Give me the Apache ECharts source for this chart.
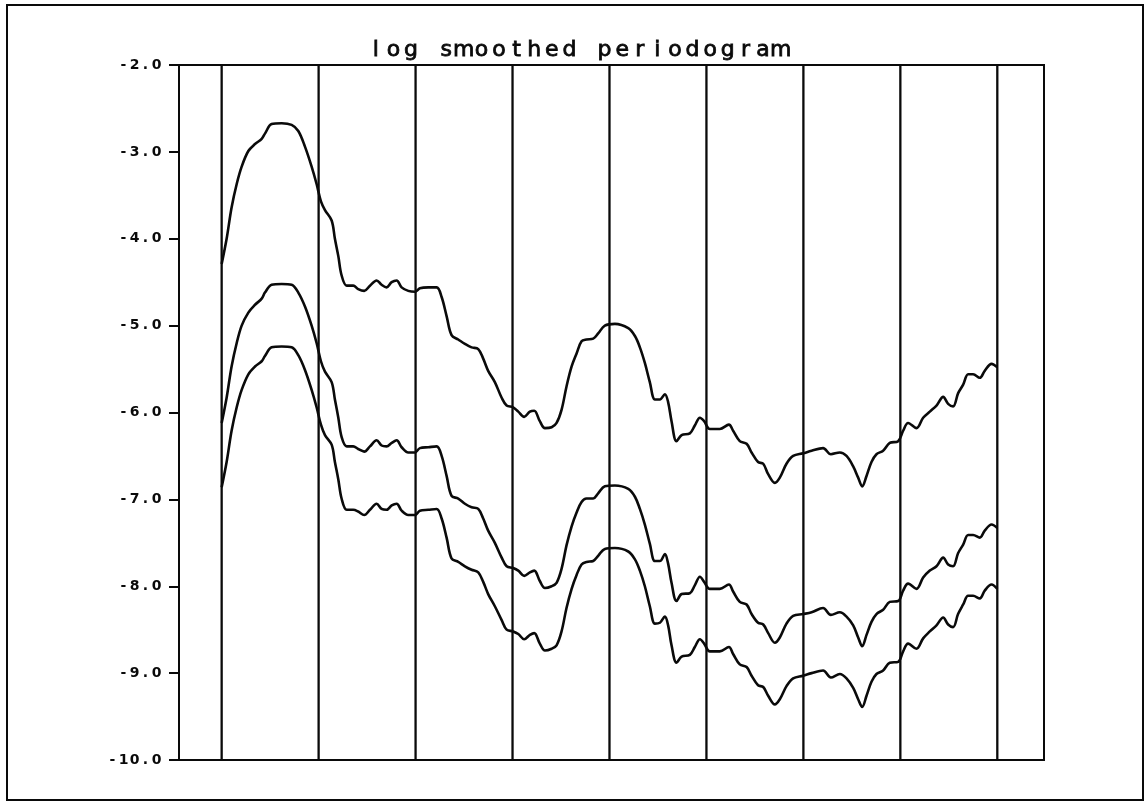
<!DOCTYPE html>
<html>
<head>
<meta charset="utf-8">
<title>log smoothed periodogram</title>
<script src="https://cdn.jsdelivr.net/npm/echarts@6/dist/echarts.min.js"></script>
<style>
  html, body { margin: 0; padding: 0; background: #fff; }
  #chart { width: 1146px; height: 803px; }
</style>
</head>
<body>
<div id="chart"></div>
<script>
// Frequencies (cycles per sample) at which the three curves are sampled
const freq = [
  0.0000, 0.0032, 0.0064, 0.0097, 0.0129, 0.0172, 0.0215, 0.0258, 0.0279, 0.0322,
  0.0387, 0.0451, 0.0494, 0.0537, 0.0580, 0.0612, 0.0640, 0.0666, 0.0709, 0.0730,
  0.0752, 0.0773, 0.0806, 0.0848, 0.0880, 0.0919, 0.0956, 0.0999, 0.1031, 0.1063,
  0.1096, 0.1128, 0.1160, 0.1203, 0.1246, 0.1278, 0.1332, 0.1386, 0.1418, 0.1450,
  0.1482, 0.1525, 0.1568, 0.1611, 0.1654, 0.1686, 0.1718, 0.1761, 0.1805, 0.1837,
  0.1879, 0.1912, 0.1950, 0.1987, 0.2015, 0.2051, 0.2084, 0.2127, 0.2159, 0.2191,
  0.2223, 0.2256, 0.2288, 0.2320, 0.2352, 0.2395, 0.2427, 0.2470,
  0.2535, 0.2621, 0.2664, 0.2696, 0.2728, 0.2760, 0.2793, 0.2825, 0.2857, 0.2878,
  0.2900, 0.2932, 0.2965, 0.3018, 0.3050, 0.3083, 0.3110, 0.3147, 0.3211, 0.3270,
  0.3297, 0.3340, 0.3384, 0.3416, 0.3458, 0.3491, 0.3523, 0.3566, 0.3598, 0.3641,
  0.3684, 0.3748, 0.3803, 0.3877, 0.3927, 0.3985, 0.4028, 0.4071, 0.4103, 0.4129,
  0.4157, 0.4189, 0.4221, 0.4264, 0.4307, 0.4361, 0.4393, 0.4425, 0.4479, 0.4522,
  0.4565, 0.4608, 0.4651, 0.4683, 0.4715, 0.4747, 0.4780, 0.4812, 0.4844, 0.4887,
  0.4919, 0.4963, 0.5000
];

// Upper band of the log smoothed periodogram
const upperBand = [
  -4.29, -4.00, -3.64, -3.37, -3.17, -2.99, -2.91, -2.85, -2.79, -2.68,
  -2.67, -2.69, -2.76, -2.94, -3.17, -3.37, -3.57, -3.67, -3.79, -4.00,
  -4.20, -4.42, -4.54, -4.54, -4.58, -4.60, -4.54, -4.48, -4.53, -4.56,
  -4.50, -4.48, -4.56, -4.60, -4.61, -4.57, -4.56, -4.56, -4.67, -4.89,
  -5.11, -5.16, -5.21, -5.25, -5.27, -5.38, -5.52, -5.65, -5.83, -5.92,
  -5.94, -5.99, -6.05, -5.99, -5.98, -6.10, -6.18, -6.17, -6.12, -5.97,
  -5.70, -5.47, -5.32, -5.18, -5.16, -5.15, -5.09, -5.00,
  -4.98, -5.03, -5.12, -5.25, -5.43, -5.65, -5.85, -5.85, -5.79, -5.88,
  -6.10, -6.33, -6.26, -6.24, -6.15, -6.06, -6.10, -6.19, -6.19, -6.14,
  -6.21, -6.33, -6.36, -6.46, -6.57, -6.59, -6.71, -6.81, -6.75, -6.59,
  -6.50, -6.47, -6.44, -6.41, -6.48, -6.46, -6.50, -6.62, -6.75, -6.85,
  -6.73, -6.57, -6.48, -6.44, -6.35, -6.33, -6.21, -6.12, -6.18, -6.06,
  -5.99, -5.92, -5.82, -5.90, -5.93, -5.78, -5.68, -5.56, -5.56, -5.60,
  -5.52, -5.44, -5.48
];

// Smoothed periodogram estimate (log scale)
const estimate = [
  -6.12, -5.83, -5.47, -5.20, -5.00, -4.85, -4.76, -4.69, -4.62, -4.53,
  -4.52, -4.53, -4.62, -4.78, -5.00, -5.20, -5.41, -5.53, -5.65, -5.85,
  -6.06, -6.28, -6.39, -6.39, -6.42, -6.45, -6.39, -6.32, -6.38, -6.39,
  -6.35, -6.32, -6.40, -6.46, -6.46, -6.41, -6.40, -6.39, -6.50, -6.73,
  -6.96, -6.99, -7.05, -7.09, -7.11, -7.22, -7.36, -7.50, -7.67, -7.77,
  -7.79, -7.82, -7.88, -7.84, -7.82, -7.94, -8.02, -8.00, -7.96, -7.80,
  -7.53, -7.31, -7.15, -7.03, -6.99, -6.99, -6.93, -6.85,
  -6.84, -6.88, -6.97, -7.11, -7.29, -7.51, -7.71, -7.71, -7.63, -7.74,
  -7.96, -8.17, -8.09, -8.08, -7.99, -7.89, -7.95, -8.03, -8.03, -7.98,
  -8.06, -8.18, -8.21, -8.32, -8.42, -8.44, -8.54, -8.65, -8.59, -8.43,
  -8.34, -8.32, -8.30, -8.25, -8.33, -8.30, -8.35, -8.45, -8.59, -8.69,
  -8.56, -8.41, -8.32, -8.27, -8.18, -8.17, -8.05, -7.97, -8.03, -7.90,
  -7.82, -7.77, -7.67, -7.75, -7.77, -7.62, -7.52, -7.41, -7.41, -7.44,
  -7.36, -7.29, -7.33
];

// Lower band of the log smoothed periodogram
const lowerBand = [
  -6.86, -6.57, -6.21, -5.94, -5.74, -5.56, -5.47, -5.41, -5.35, -5.25,
  -5.24, -5.25, -5.34, -5.51, -5.74, -5.94, -6.14, -6.26, -6.37, -6.57,
  -6.77, -6.99, -7.12, -7.12, -7.14, -7.18, -7.12, -7.05, -7.11, -7.12,
  -7.07, -7.05, -7.13, -7.18, -7.18, -7.13, -7.12, -7.11, -7.22, -7.44,
  -7.68, -7.72, -7.77, -7.81, -7.84, -7.95, -8.09, -8.23, -8.39, -8.50,
  -8.52, -8.55, -8.61, -8.56, -8.54, -8.66, -8.74, -8.72, -8.68, -8.52,
  -8.25, -8.03, -7.87, -7.75, -7.72, -7.71, -7.65, -7.57,
  -7.56, -7.60, -7.69, -7.82, -8.00, -8.23, -8.43, -8.42, -8.35, -8.45,
  -8.68, -8.88, -8.81, -8.79, -8.70, -8.61, -8.66, -8.75, -8.75, -8.70,
  -8.78, -8.90, -8.93, -9.03, -9.14, -9.16, -9.26, -9.36, -9.30, -9.15,
  -9.06, -9.03, -9.00, -8.97, -9.05, -9.01, -9.06, -9.17, -9.30, -9.39,
  -9.26, -9.10, -9.01, -8.97, -8.88, -8.87, -8.75, -8.66, -8.72, -8.60,
  -8.52, -8.45, -8.36, -8.44, -8.47, -8.32, -8.21, -8.11, -8.11, -8.14,
  -8.05, -7.98, -8.03
];

// Vertical reference lines every 1/16 cycle
const gridFreqs = [0, 0.0625, 0.125, 0.1875, 0.25, 0.3125, 0.375, 0.4375, 0.5];

// Y axis range and step
const yMin = -10;
const yMax = -2;
const yStep = 1;

const titleText = 'log smoothed periodogram';

// Spread each character into a fixed-width cell, like a pen plotter font
function spaced(str, style) {
  return str.split('').map(function (c) { return '{' + style + '|' + c + '}'; }).join('');
}

function pairs(values) {
  return values.map(function (v, i) { return [freq[i], v]; });
}

const ink = '#0a0a0a';

const curveStyle = {
  type: 'line',
  showSymbol: false,
  smooth: 0.35,
  silent: true,
  lineStyle: { color: ink, width: 2.6 },
  itemStyle: { color: ink },
  z: 5
};

// One full-height vertical segment per reference frequency
const gridSeries = gridFreqs.map(function (f) {
  return {
    type: 'line',
    showSymbol: false,
    silent: true,
    lineStyle: { color: ink, width: 2.3 },
    itemStyle: { color: ink },
    z: 3,
    data: [[f, yMin], [f, yMax]]
  };
});

const chart = echarts.init(document.getElementById('chart'), null, { renderer: 'canvas' });

chart.setOption({
  animation: false,
  backgroundColor: '#ffffff',
  title: {
    text: spaced(titleText, 'c'),
    left: 362,
    top: 34,
    textStyle: {
      fontSize: 22,
      rich: {
        c: {
          width: 17.6,
          align: 'center',
          fontFamily: 'DejaVu Sans',
          fontSize: 22,
          fontWeight: 'normal',
          color: ink,
          textBorderColor: ink,
          textBorderWidth: 0.8
        }
      }
    }
  },
  graphic: [
    {
      type: 'rect',
      shape: { x: 7, y: 5, width: 1136, height: 795 },
      style: { fill: 'none', stroke: ink, lineWidth: 2 },
      silent: true
    }
  ],
  grid: {
    left: 179,
    top: 65,
    right: 102,
    bottom: 43,
    show: true,
    borderColor: ink,
    borderWidth: 2,
    backgroundColor: 'transparent'
  },
  xAxis: {
    type: 'value',
    min: -0.0275,
    max: 0.5301,
    axisLine: { show: false },
    axisTick: { show: false },
    axisLabel: { show: false },
    splitLine: { show: false }
  },
  yAxis: {
    type: 'value',
    min: yMin,
    max: yMax,
    interval: yStep,
    axisLine: { show: true, onZero: false, lineStyle: { color: ink, width: 2 } },
    axisTick: { show: true, inside: false, length: 10, lineStyle: { color: ink, width: 2 } },
    axisLabel: {
      margin: 17,
      fontSize: 14,
      fontWeight: 'bold',
      fontFamily: 'DejaVu Sans',
      color: ink,
      formatter: function (v) { return spaced(v.toFixed(1), 'd'); },
      rich: {
        d: {
          width: 11,
          align: 'center',
          fontFamily: 'DejaVu Sans',
          fontSize: 14,
          fontWeight: 'bold',
          color: ink
        }
      }
    },
    splitLine: { show: false }
  },
  series: [
    Object.assign({}, curveStyle, { name: 'upper', data: pairs(upperBand) }),
    Object.assign({}, curveStyle, { name: 'estimate', data: pairs(estimate) }),
    Object.assign({}, curveStyle, { name: 'lower', data: pairs(lowerBand) })
  ].concat(gridSeries)
});
</script>
</body>
</html>
